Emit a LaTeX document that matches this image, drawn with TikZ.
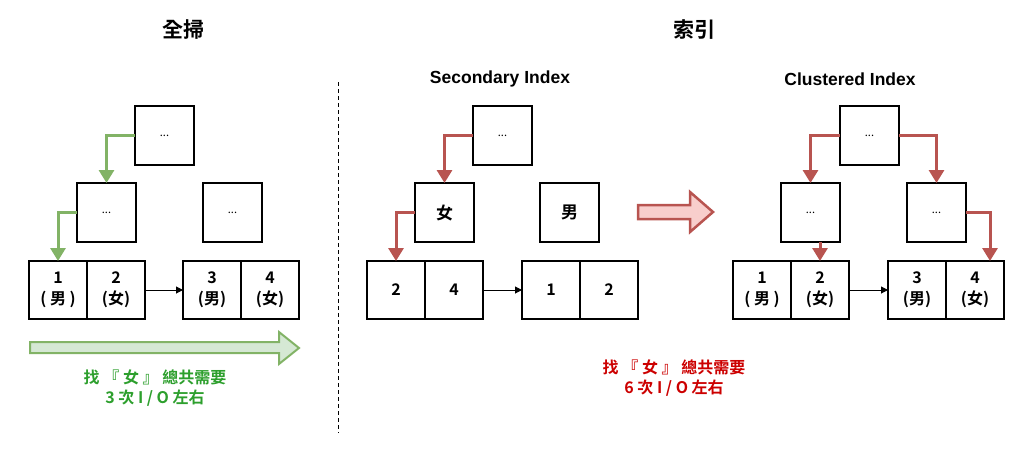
\documentclass[tikz,border=0pt]{standalone}
\usepackage{fontspec}
\setmainfont{Liberation Sans}
\newfontfamily\cjk{Noto Sans CJK TC}[BoldFont={Noto Sans CJK TC Bold}]
\usepackage{tikz}
\usetikzlibrary{arrows.meta, positioning}
\definecolor{gstroke}{HTML}{82B366}
\definecolor{gfill}{HTML}{D5E8D4}
\definecolor{rstroke}{HTML}{B85450}
\definecolor{rfill}{HTML}{F8CECC}
\definecolor{gtext}{HTML}{2D9F2D}
\definecolor{rtext}{HTML}{CC0000}

\begin{document}
\begin{tikzpicture}[
			x=1pt, y=-1pt,
			node distance=0pt,
			box/.style={
				draw,
				line width=1.5pt,
				minimum size=59pt,
				inner sep=0pt,
				outer sep=0pt,
				font=\cjk\fontsize{11}{12}\selectfont
			},
			cell/.style={
				draw,
				line width=1.5pt,
				minimum size=58pt,
				inner sep=0pt,
				outer sep=0pt,
				align=center,
				font=\cjk\bfseries\fontsize{16}{21}\selectfont
			},
			link/.style={-{Triangle[length=7pt,width=7pt]}, line width=1pt},
			gpath/.style={-{Triangle[length=13pt,width=15pt]}, line width=3pt, draw=gstroke},
			rpath/.style={-{Triangle[length=13pt,width=15pt]}, line width=3pt, draw=rstroke},
			title/.style={font=\cjk\bfseries\fontsize{21}{24}\selectfont},
			subtitle/.style={font=\bfseries\fontsize{17.5}{20}\selectfont},
			note/.style={align=center, font=\cjk\bfseries\fontsize{16}{20}\selectfont}
			]
			
			\useasboundingbox (0,0) rectangle (1024,455);
			
			% titles
			\node[title] (scan) at (183,30) {全掃};
			\node[title] (index) at (694,30) {索引};
			\node[subtitle] (sec) at (500,79) {Secondary Index};
			\node[subtitle] (clu) at (850,79) {Clustered Index};
			
			% full scan
			\node[box] (top) at (164.5,135.5) {...};
			\node[box] (ml) at (106.5,212.5) {...};
			\node[box] (mr) at (232.5,212.5) {...};
			\node[cell] (l1) at (58,290) {1\\( 男 )};
			\node[cell, right=of l1] (l2) {2\\(女)};
			\node[cell] (l3) at (212,290) {3\\(男)};
			\node[cell, right=of l3] (l4) {4\\(女)};
			
			\draw[gpath] (top.west) -| (ml.north);
			\draw[gpath] (ml.west) -| (l1.north);
			\draw[link] (l2.east) -- (l3.west);
			
			\draw[line width=2pt, draw=gstroke, fill=gfill]
				(30,342) -- (279,342) -- (279,332) -- (299,348) -- (279,364) -- (279,353) -- (30,353) -- cycle;
			\node[note, text=gtext] (scannote) at (155,388) {找 『 女 』 總共需要\\3 次 I / O 左右};
			
			% separator
			\draw[line width=1pt, dash pattern=on 4pt off 3pt] (338,82) -- (338,433);
			
			% secondary index
			\node[box] (stop) at (502.5,135.5) {...};
			\node[box, font=\cjk\bfseries\fontsize{17}{18}\selectfont] (nv) at (444.5,212.5) {女};
			\node[box, font=\cjk\bfseries\fontsize{17}{18}\selectfont] (nm) at (569.5,212.5) {男};
			\node[cell] (s1) at (396,290) {2};
			\node[cell, right=of s1] (s2) {4};
			\node[cell] (s3) at (551,290) {1};
			\node[cell, right=of s3] (s4) {2};
			
			\draw[rpath] (stop.west) -| (nv.north);
			\draw[rpath] (nv.west) -| (s1.north);
			\draw[link] (s2.east) -- (s3.west);
			
			\draw[line width=2.5pt, draw=rstroke, fill=rfill]
				(638,205) -- (690,205) -- (690,192) -- (713,212) -- (690,232) -- (690,219) -- (638,219) -- cycle;
			\node[note, text=rtext] (secnote) at (674,378) {找 『 女 』 總共需要\\6 次 I / O 左右};
			
			% clustered index
			\node[box] (ctop) at (869.5,135.5) {...};
			\node[box] (cml) at (810.5,212.5) {...};
			\node[box] (cmr) at (936.5,212.5) {...};
			\node[cell] (c1) at (762,290) {1\\( 男 )};
			\node[cell, right=of c1] (c2) {2\\(女)};
			\node[cell] (c3) at (917,290) {3\\(男)};
			\node[cell, right=of c3] (c4) {4\\(女)};
			
			\draw[rpath] (ctop.west) -| (cml.north);
			\draw[rpath] (ctop.east) -| (cmr.north);
			\draw[rpath] (c2.north |- cml.south) -- (c2.north);
			\draw[rpath] (cmr.east) -| ([xshift=15pt]c4.north);
			\draw[link] (c2.east) -- (c3.west);
			
		\end{tikzpicture}
\end{document}
